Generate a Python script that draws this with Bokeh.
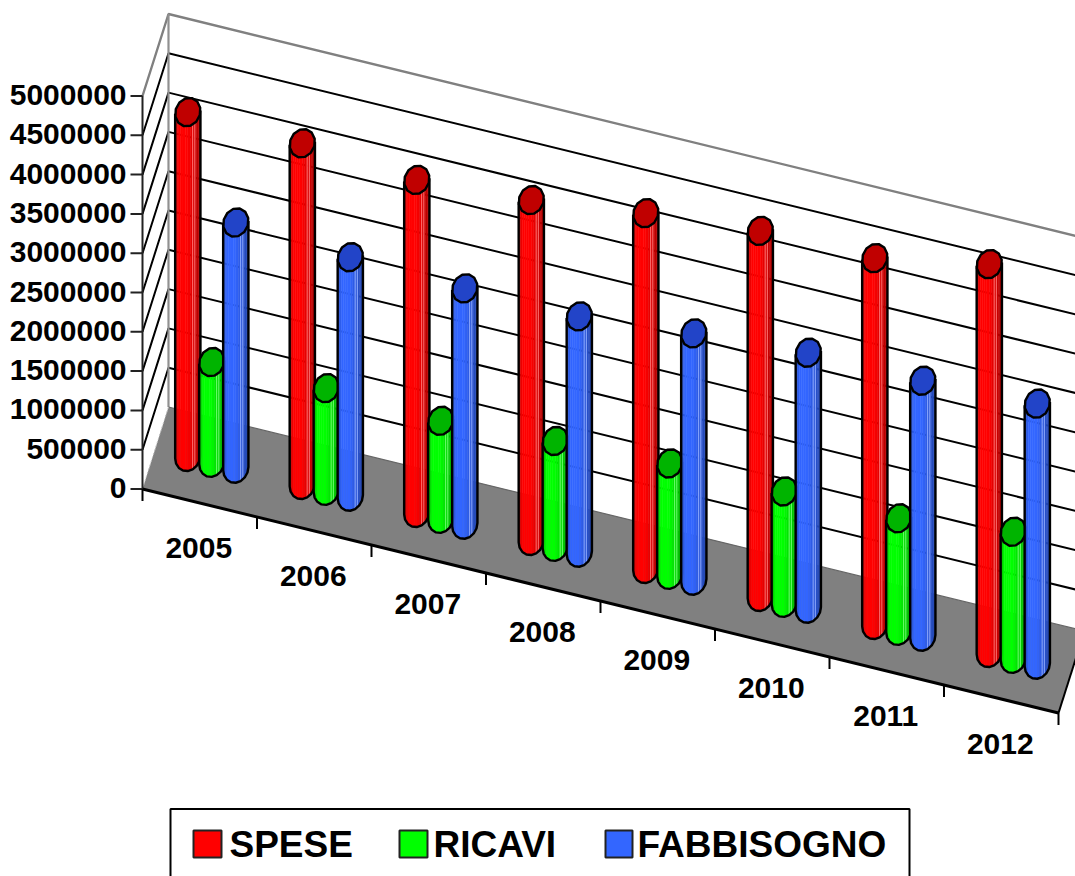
import math
from bokeh.plotting import figure
from bokeh.models import Range1d
from bokeh.core.properties import value
from bokeh.embed import file_html
from bokeh.resources import INLINE

years = ["2005", "2006", "2007", "2008", "2009", "2010", "2011", "2012"]
spese = [4385000, 4345000, 4235000, 4335000, 4525000, 4655000, 4665000, 4945000]
ricavi = [1280000, 1305000, 1245000, 1345000, 1415000, 1415000, 1430000, 1615000]
fabbisogno = [3130000, 3045000, 3005000, 3005000, 3145000, 3255000, 3255000, 3320000]
series_names = ["SPESE", "RICAVI", "FABBISOGNO"]
series_values = [spese, ricavi, fabbisogno]
series_rgb = [(255, 0, 0), (0, 255, 0), (51, 102, 255)]
top_colors = ["#C00000", "#00B400", "#2244C8"]
y_ticks = [0, 500000, 1000000, 1500000, 2000000, 2500000, 3000000, 3500000, 4000000, 4500000, 5000000]

W, H = 1075, 876
OX, OY = 142.0, 488.5
STEP_X, STEP_Y = 114.5, 28.0
DEPTH_X, DEPTH_Y = 26.0, -82.0
VSCALE = 393.0 / 5000000
FONT = "Liberation Sans"


def P(a, d, v=0.0):
    return (OX + a * STEP_X + d * DEPTH_X, OY + a * STEP_Y + d * DEPTH_Y - v * VSCALE)


p = figure(width=W, height=H, output_backend="svg", toolbar_location=None,
           x_range=Range1d(0, W), y_range=Range1d(H, 0),
           min_border=0, outline_line_color=None)
p.xaxis.visible = False
p.yaxis.visible = False
p.grid.visible = False


def line(pts, color="black", width=2.0, dash="solid"):
    p.line([q[0] for q in pts], [q[1] for q in pts], line_color=color, line_width=width, line_dash=dash)


# Walls' gridlines
vmax = y_ticks[-1]
for v in y_ticks[1:]:
    col = "#808080" if v == vmax else "black"
    line([P(0, 0, v), P(0, 1, v), P(8, 1, v)], color=col, width=2.4 if v == vmax else 2.0)
line([P(0, 1, 0), P(0, 1, vmax)], color="#909090", width=2.2)

# Floor
floor = [P(0, 0), P(8, 0), P(8, 1), P(0, 1)]
p.patch([q[0] for q in floor], [q[1] for q in floor], fill_color="#808080", line_color=None)
line([P(0, 1), P(8, 1)], color="#666666", width=1.2)
line([P(0, 0), P(0, 1)], color="#bbbbbb", width=1.0, dash="2 2")
line([P(8, 0), P(8, 1)], color="black", width=2.0)

# Value axis
line([P(0, 0, 0), P(0, 0, vmax)], color="#222222", width=2.0)
for v in y_ticks:
    x0, y0 = P(0, 0, v)
    line([(x0 - 12, y0), (x0, y0)], color="#222222", width=2.0)
tx = [P(0, 0, v)[0] - 16 for v in y_ticks]
ty = [P(0, 0, v)[1] - 1 for v in y_ticks]
p.text(tx, ty, text=[str(v) for v in y_ticks], text_font=value(FONT), text_font_style="bold",
       text_font_size=value("30px"), text_align="right", text_baseline="middle", text_color="black")

# Category axis
line([P(0, 0), P(8, 0)], color="black", width=3.0)
for i in range(len(years) + 1):
    x0, y0 = P(i, 0)
    line([(x0, y0), (x0, y0 + 12)], color="black", width=2.0)
cx = [P(i + 0.5, 0)[0] - 1 for i in range(len(years))]
cy = [P(i + 0.5, 0)[1] + 45 for i in range(len(years))]
p.text(cx, cy, text=years, text_font=value(FONT), text_font_style="bold",
       text_font_size=value("30px"), text_align="center", text_baseline="middle", text_color="black")

# Cylinders
U = (12.0, 3.0)
V = (4.0, -14.0)
T0 = math.atan2(V[0], U[0])
N = 16
BAR_DEPTH = 0.49
SERIES_STEP = 0.2096
A_SHIFT = -0.006


def ring(c, t):
    return (c[0] + math.cos(t) * U[0] + math.sin(t) * V[0],
            c[1] + math.cos(t) * U[1] + math.sin(t) * V[1])


def shade(rgb, f):
    if f < 0.15:
        k = 0.72 + 0.28 * f / 0.15
    elif f < 0.5:
        k = 1.0
    else:
        k = 1.0 - 0.32 * (f - 0.5) / 0.5
    return "#%02x%02x%02x" % tuple(int(c * k) for c in rgb)


for i in range(len(years)):
    for s, vals in enumerate(series_values):
        a = i + 0.5 + (s - 1) * SERIES_STEP + A_SHIFT
        base = P(a, BAR_DEPTH, 0)
        top = P(a, BAR_DEPTH, vals[i])
        ts = [T0 - math.pi + math.pi * k / N for k in range(N + 1)]
        xs, ys, cols = [], [], []
        for k in range(N):
            b0, b1 = ring(base, ts[k]), ring(base, ts[k + 1])
            t0, t1 = ring(top, ts[k]), ring(top, ts[k + 1])
            xs.append([b0[0], b1[0], t1[0], t0[0]])
            ys.append([b0[1], b1[1], t1[1], t0[1]])
            cols.append(shade(series_rgb[s], (b0[0] + b1[0] - 2 * base[0] + 25) / 50))
        p.patches(xs, ys, fill_color=cols, line_color=cols, line_width=0.5)
        # pale highlights
        for k in (10, 11):
            tk = ts[k]
            hb, ht = ring(base, tk), ring(top, tk)
            hl = tuple(int(c + (255 - c) * 0.45) for c in series_rgb[s])
            line([hb, ht], color="#%02x%02x%02x" % hl, width=1.0)
        # outline
        arc = [ring(base, t) for t in ts[::2]]
        line([ring(top, ts[0])] + arc + [ring(top, ts[-1])], color="black", width=2.4)
        # top ellipse
        ell = [ring(top, 2 * math.pi * k / 12) for k in range(12)]
        p.patch([q[0] for q in ell], [q[1] for q in ell], fill_color=top_colors[s],
                line_color="black", line_width=2.4)

# Legend
p.quad(left=[170], right=[909], top=[808.5], bottom=[900], fill_color="white", line_color="black", line_width=2.0)
sw_left = [193, 399, 605]
sw_right = [221, 427, 632]
p.quad(left=sw_left, right=sw_right, top=[830] * 3, bottom=[857] * 3,
       fill_color=["#%02x%02x%02x" % c for c in series_rgb], line_color="#222222", line_width=2.0)
p.text([229, 433, 637], [844] * 3, text=series_names, text_font=value(FONT), text_font_style="bold",
       text_font_size=value("37px"), text_align="left", text_baseline="middle", text_color="black")

open("out.html", "w").write(file_html(p, INLINE))
